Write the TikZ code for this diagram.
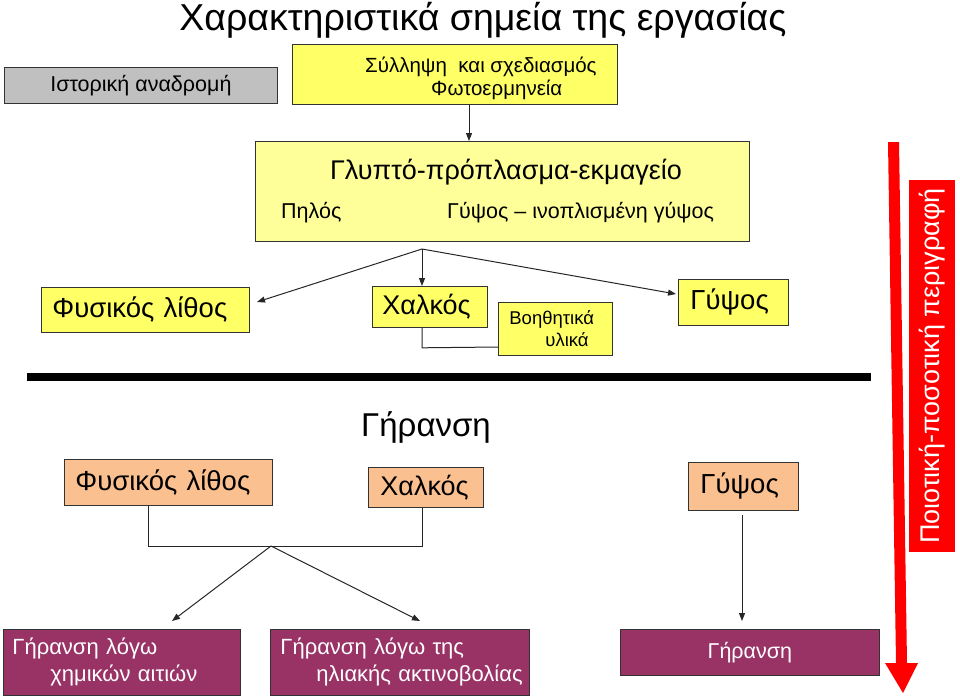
\documentclass[tikz,border=0pt]{standalone}
\usepackage{fontspec}
\setmainfont{Liberation Sans}
\usetikzlibrary{arrows.meta}
\definecolor{cgray}{HTML}{C0C0C0}
\definecolor{cyel}{HTML}{FFFF66}
\definecolor{cpale}{HTML}{FFFF99}
\definecolor{corange}{HTML}{FAC090}
\definecolor{cpurple}{HTML}{993366}
\definecolor{cred}{HTML}{FF0000}
\newcommand\fsz[2]{\fontsize{#1}{#2}\selectfont}
\begin{document}
\begin{tikzpicture}[x=1pt,y=-1pt,
  bx/.style={draw=black!80, line width=0.8pt, inner sep=0pt, anchor=north west},
  ybox/.style={bx, fill=cyel},
  obox/.style={bx, fill=corange},
  pbox/.style={bx, fill=cpurple, text=white},
  conn/.style={draw=black!85, line width=1pt},
  arr/.style={conn, -{Triangle[length=8pt,width=6pt]}}]
\useasboundingbox (0,0) rectangle (960,697);

% title
\node[anchor=base, inner sep=0pt, font=\fsz{37.5}{40}] (title) at (483,30) {Χαρακτηριστικά σημεία της εργασίας};

% top row
\node[bx, fill=cgray, minimum width=273pt, minimum height=36pt, font=\fsz{21.5}{24}] (hist) at (4,67) {Ιστορική αναδρομή};
\node[bx, fill=cyel, minimum width=325pt, minimum height=60pt] (syl) at (292,44) {};
\node[anchor=base west, inner sep=0pt, font=\fsz{20.5}{23}] (syl1) at (365,72) {Σύλληψη\ \ και σχεδιασμός};
\node[anchor=base west, inner sep=0pt, font=\fsz{20.5}{23}] (syl2) at (431,95) {Φωτοερμηνεία};

% big box
\node[bx, fill=cpale, minimum width=494pt, minimum height=100pt] (glypto) at (255,141) {};
\node[font=\fsz{27}{30}] (gtitle) at (506,172) {Γλυπτό-πρόπλασμα-εκμαγείο};
\node[anchor=west, inner sep=0pt, font=\fsz{21.5}{24}] (pilos) at (281,213) {Πηλός};
\node[anchor=west, inner sep=0pt, font=\fsz{21.5}{24}] (gypsos) at (447,213) {Γύψος – ινοπλισμένη γύψος};

% second row (yellow)
\node[ybox, minimum width=208pt, minimum height=45pt, inner xsep=11pt, text width=186pt, align=left, font=\fsz{27.5}{30}] (fys1) at (41,287) {Φυσικός λίθος};
\node[ybox, minimum width=115pt, minimum height=41pt, inner xsep=10pt, text width=95pt, align=left, font=\fsz{27}{30}] (xalk1) at (372,286) {Χαλκός};
\node[ybox, minimum width=114pt, minimum height=53pt, inner xsep=11pt, text width=92pt, align=left, font=\fsz{18.5}{22}] (voith) at (498,302) {Βοηθητικά\\\hspace*{36pt}υλικά};
\node[ybox, minimum width=110pt, minimum height=46pt, inner xsep=12pt, text width=86pt, align=left, font=\fsz{27.5}{30}] (gyps1) at (678,279) {Γύψος};

% connectors from big box
\coordinate (J) at (422,249);
\coordinate (fysend) at (257,302);
\coordinate (gypend) at (676,294);
\coordinate (sylb) at (469,0);
\draw[arr] (syl.south -| sylb) -- (glypto.north -| sylb);
\draw[arr] (J) -- (fysend);
\draw[arr] (J) -- (J |- xalk1.north);
\draw[arr] (J) -- (gypend);
\draw[conn] (J |- xalk1.south) -- ++(0,20) -- (voith.west |- 0,347);

% thick line
\coordinate (hl) at (27,377);
\coordinate (hr) at (871,377);
\draw[line width=8pt] (hl) -- (hr);

% aging
\node[font=\fsz{33}{36}] (geransi) at (426,427) {Γήρανση};
\node[obox, minimum width=208pt, minimum height=46pt, inner xsep=11pt, text width=186pt, align=left, font=\fsz{27.5}{30}] (fys2) at (64,459) {Φυσικός λίθος};
\node[obox, minimum width=115pt, minimum height=40pt, inner xsep=12pt, text width=91pt, align=left, font=\fsz{27}{30}] (xalk2) at (368,467) {Χαλκός};
\node[obox, minimum width=110pt, minimum height=48pt, inner xsep=12pt, text width=86pt, align=left, font=\fsz{27.5}{30}] (gyps2) at (688,462) {Γύψος};

% bottom boxes
\node[pbox, minimum width=237pt, minimum height=66pt, inner xsep=9pt, text width=219pt, align=left, font=\fsz{22}{27}] (p1) at (3,629) {Γήρανση λόγω\\\hspace*{38pt}χημικών αιτιών};
\node[pbox, minimum width=259pt, minimum height=66pt, inner xsep=4pt, text width=251pt, align=left, font=\fsz{22}{27}] (p2) at (270,629) {\hspace*{6pt}Γήρανση λόγω της\\\hspace*{42pt}ηλιακής ακτινοβολίας};
\node[pbox, minimum width=259pt, minimum height=46pt, font=\fsz{21.5}{24}] (p3) at (620,629) {Γήρανση};

% lower connectors
\coordinate (J2) at (271,546);
\draw[conn] (fys2.south -| 148,0) -- (148,546) -- (422,546) -- (xalk2.south -| 422,0);
\draw[arr] (J2) -- (172,621);
\draw[arr] (J2) -- (420,621);
\draw[arr] (742,515) -- (742,621);

% red arrow
\fill[cred] (888,142) -- (899,142) -- (907,663) -- (918,663) -- (903,693) -- (885,663) -- (896,663) -- cycle;
\node[fill=cred, text=white, minimum width=372pt, minimum height=46pt, inner sep=0pt, rotate=90, font=\fsz{27}{30}] (desc) at (932,366) {Ποιοτική-ποσοτική περιγραφή};
\end{tikzpicture}
\end{document}
